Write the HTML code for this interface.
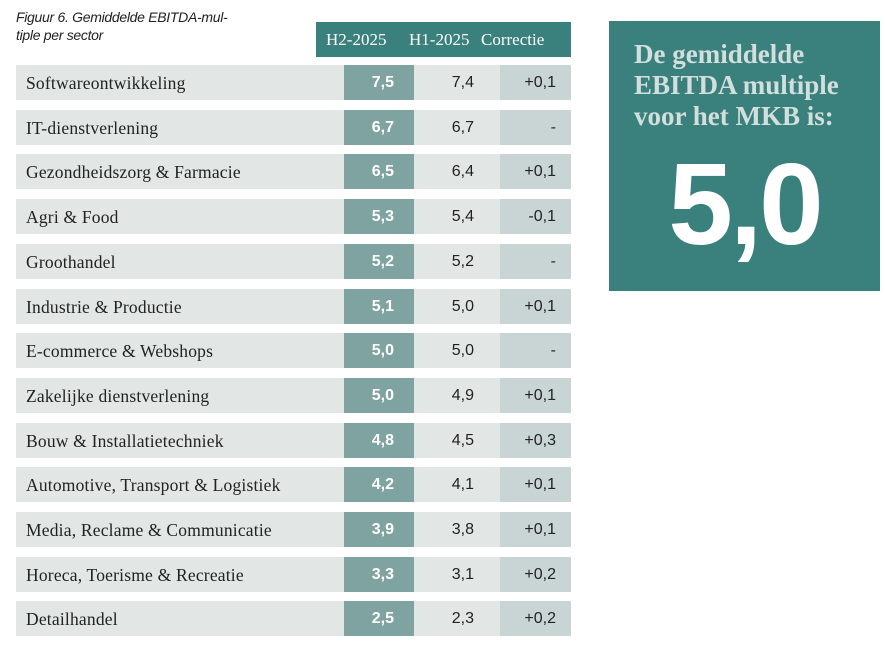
<!DOCTYPE html>
<html><head><meta charset="utf-8"><style>
body{margin:0;width:885px;height:648px;background:#fff;position:relative;overflow:hidden;font-family:"Liberation Sans",sans-serif}
.abs{position:absolute}
.title{left:16px;top:8px;font-style:italic;font-size:14px;line-height:18px;color:#222;width:240px;letter-spacing:-0.3px}
.hdr{left:316px;top:22px;width:255px;height:35px;background:#3a807c;color:#fff;font-family:"Liberation Serif",serif;font-size:17px}
.hdr span{position:absolute;top:8px}
.row{position:absolute;left:16px;width:555px;height:35px;background:#e2e6e5}
.lbl{position:absolute;left:10px;top:8px;font-family:"Liberation Serif",serif;font-size:17.5px;color:#222;letter-spacing:0.2px}
.c{position:absolute;top:0;height:35px;line-height:35px;text-align:right;font-size:16px;color:#222;box-sizing:border-box}
.h2{left:328px;width:70px;background:#7fa3a1;color:#fff;font-weight:bold;padding-right:20px}
.h1{left:398px;width:86px;padding-right:26px}
.co{left:484px;width:71px;background:#c9d5d4;padding-right:15px}
.box{left:609px;top:21px;width:271px;height:270px;background:#3a807c}
.bt{position:absolute;left:25px;top:18px;font-family:"Liberation Serif",serif;font-weight:bold;font-size:27px;line-height:31px;color:#d2dfdd}
.big{position:absolute;left:0;width:271px;text-align:center;top:118px;font-weight:bold;font-size:116px;line-height:130px;color:#fff;letter-spacing:-3px}
</style></head><body>
<div class="abs title">Figuur 6. Gemiddelde EBITDA-mul-<br>tiple per sector</div>
<div class="abs hdr">
<span style="left:10px">H2-2025</span>
<span style="left:93px">H1-2025</span>
<span style="left:165px">Correctie</span>
</div>
<div id="rows"></div>
<div class="abs box">
<div class="bt">De gemiddelde<br>EBITDA multiple<br>voor het MKB is:</div>
<div class="big">5,0</div>
</div>
<script>
const sectors=["Softwareontwikkeling","IT-dienstverlening","Gezondheidszorg & Farmacie","Agri & Food","Groothandel","Industrie & Productie","E-commerce & Webshops","Zakelijke dienstverlening","Bouw & Installatietechniek","Automotive, Transport & Logistiek","Media, Reclame & Communicatie","Horeca, Toerisme & Recreatie","Detailhandel"];
const h2=[7.5,6.7,6.5,5.3,5.2,5.1,5.0,5.0,4.8,4.2,3.9,3.3,2.5];
const h1=[7.4,6.7,6.4,5.4,5.2,5.0,5.0,4.9,4.5,4.1,3.8,3.1,2.3];
const fmt=v=>v.toFixed(1).replace('.',',');
const fc=d=>{d=Math.round(d*10)/10;if(d===0)return '-';return (d>0?'+':'')+fmt(d);};
const root=document.getElementById('rows');
sectors.forEach((s,i)=>{
 const r=document.createElement('div');r.className='row';r.style.top=(65+i*44.7)+'px';
 
 
 const l=document.createElement('div');l.className='lbl';l.textContent=s;
 
 
 const a=document.createElement('div');a.className='c h2';a.textContent=fmt(h2[i]);
 
 
 const b=document.createElement('div');b.className='c h1';b.textContent=fmt(h1[i]);
 
 
 const c=document.createElement('div');c.className='c co';c.textContent=fc(h2[i]-h1[i]);
 
 
 r.append(l,a,b,c);root.appendChild(r);
});
</script>
</body></html>
